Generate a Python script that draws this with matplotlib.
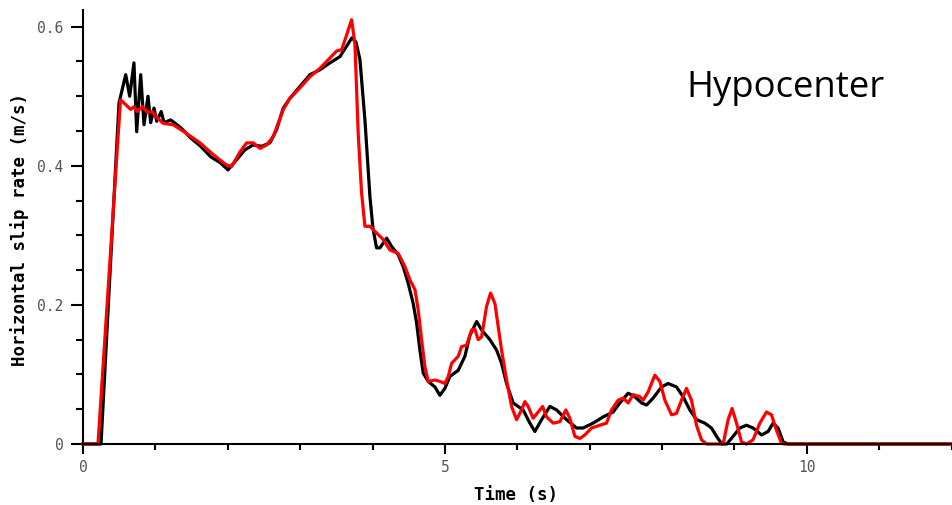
import numpy as np
import matplotlib.pyplot as plt
from matplotlib.ticker import MultipleLocator

''' Slip rate at the hypocenter, two solutions overlaid (black and red). '''

t_black = [0, 0.249, 0.497, 0.59, 0.645, 0.704, 0.742, 0.797, 0.843, 0.898, 0.935,
           0.981, 1.018, 1.081, 1.119, 1.211, 1.349, 1.488, 1.626, 1.764, 1.902,
           2.003, 2.238, 2.348, 2.468, 2.583, 2.675, 2.767, 2.859, 2.997, 3.135,
           3.273, 3.412, 3.55, 3.642, 3.715, 3.771, 3.826, 3.895, 3.964, 4.006,
           4.056, 4.102, 4.195, 4.264, 4.355, 4.424, 4.493, 4.562, 4.609, 4.655,
           4.7, 4.769, 4.862, 4.931, 5.0, 5.069, 5.184, 5.276, 5.345, 5.438,
           5.507, 5.622, 5.714, 5.783, 5.852, 5.943, 6.081, 6.174, 6.243, 6.336,
           6.45, 6.543, 6.681, 6.819, 6.91, 7.048, 7.187, 7.325, 7.417, 7.532,
           7.624, 7.717, 7.786, 7.877, 7.993, 8.084, 8.2, 8.291, 8.384, 8.476,
           8.591, 8.683, 8.753, 8.826, 8.895, 8.982, 9.075, 9.167, 9.258, 9.374,
           9.465, 9.535, 9.603, 9.673, 9.742, 12.02]
v_black = [0, 0, 0.49, 0.531, 0.50, 0.548, 0.449, 0.531, 0.459, 0.50, 0.462,
           0.483, 0.464, 0.478, 0.462, 0.466, 0.455, 0.44, 0.428, 0.413, 0.404,
           0.394, 0.423, 0.43, 0.428, 0.433, 0.452, 0.483, 0.497, 0.514, 0.531,
           0.538, 0.548, 0.557, 0.572, 0.584, 0.578, 0.553, 0.466, 0.356, 0.31,
           0.282, 0.282, 0.296, 0.284, 0.272, 0.255, 0.231, 0.202, 0.174, 0.135,
           0.102, 0.09, 0.082, 0.07, 0.080, 0.097, 0.106, 0.126, 0.156, 0.176,
           0.164, 0.15, 0.135, 0.116, 0.087, 0.059, 0.049, 0.030, 0.018, 0.035,
           0.054, 0.049, 0.035, 0.023, 0.023, 0.03, 0.039, 0.046, 0.059, 0.073,
           0.068, 0.059, 0.056, 0.066, 0.082, 0.087, 0.082, 0.068, 0.049, 0.035,
           0.030, 0.023, 0.011, 0.0, 0.0, 0.011, 0.023, 0.027, 0.023, 0.013,
           0.018, 0.030, 0.023, 0.003, 0.0, 0.0]

t_red = [0, 0.207, 0.518, 0.59, 0.659, 0.704, 0.75, 0.819, 0.888, 0.957, 1.026,
         1.109, 1.247, 1.409, 1.616, 1.8, 1.985, 2.054, 2.169, 2.261, 2.352,
         2.445, 2.537, 2.628, 2.767, 2.859, 2.997, 3.135, 3.273, 3.366, 3.457,
         3.504, 3.573, 3.642, 3.711, 3.757, 3.802, 3.849, 3.895, 3.964, 4.079,
         4.148, 4.24, 4.355, 4.448, 4.517, 4.586, 4.631, 4.678, 4.724, 4.769,
         4.862, 4.931, 5.0, 5.046, 5.093, 5.184, 5.23, 5.3, 5.369, 5.414, 5.46,
         5.507, 5.576, 5.631, 5.691, 5.736, 5.783, 5.852, 5.921, 5.99, 6.059,
         6.105, 6.15, 6.22, 6.289, 6.35, 6.405, 6.496, 6.588, 6.671, 6.726,
         6.796, 6.865, 6.934, 7.026, 7.141, 7.233, 7.302, 7.394, 7.463, 7.532,
         7.601, 7.693, 7.739, 7.808, 7.901, 7.97, 8.039, 8.131, 8.2, 8.269,
         8.338, 8.407, 8.476, 8.545, 8.615, 8.844, 8.913, 8.968, 9.029, 9.098,
         9.167, 9.258, 9.351, 9.443, 9.512, 9.581, 9.65, 9.696, 12.02]
v_red = [0, 0, 0.495, 0.488, 0.481, 0.485, 0.478, 0.485, 0.477, 0.478, 0.469,
         0.461, 0.459, 0.448, 0.433, 0.416, 0.401, 0.399, 0.42, 0.433, 0.433,
         0.425, 0.430, 0.442, 0.481, 0.497, 0.512, 0.528, 0.54, 0.55, 0.56,
         0.565, 0.567, 0.588, 0.61, 0.575, 0.447, 0.361, 0.313, 0.313, 0.301,
         0.294, 0.279, 0.274, 0.255, 0.236, 0.222, 0.193, 0.150, 0.111, 0.09,
         0.092, 0.09, 0.087, 0.097, 0.116, 0.126, 0.14, 0.142, 0.164, 0.165, 0.15,
         0.154, 0.198, 0.217, 0.202, 0.169, 0.135, 0.092, 0.054, 0.035, 0.049,
         0.061, 0.054, 0.037, 0.046, 0.054, 0.039, 0.03, 0.032, 0.049, 0.037,
         0.011, 0.008, 0.013, 0.023, 0.027, 0.03, 0.049, 0.063, 0.066, 0.059,
         0.071, 0.068, 0.063, 0.075, 0.099, 0.09, 0.063, 0.042, 0.044, 0.063,
         0.080, 0.063, 0.027, 0.006, 0.0, 0.0, 0.035, 0.051, 0.03, 0.003,
         0.0, 0.006, 0.03, 0.046, 0.042, 0.02, 0.001, 0.0, 0.0]

xticks = [0, 5, 10]
yticks = [0, 0.2, 0.4, 0.6]

fig = plt.figure(figsize=(9.53, 5.05), dpi=100)
ax = fig.add_axes([83/953, 61/505, 870/953, 434/505])

ax.plot(t_black, v_black, color='black', lw=2.3, solid_joinstyle='round', clip_on=False)
ax.plot(t_red, v_red, color='#ff0000', lw=2.3, solid_joinstyle='round', clip_on=False)

ax.set_xlim(0, 12.02)
ax.set_ylim(0, 0.624)
ax.spines['top'].set_visible(False)
ax.spines['right'].set_visible(False)
for s in ['left', 'bottom']:
    ax.spines[s].set_linewidth(1.5)

ax.set_xticks(xticks)
ax.set_xticklabels([str(x) for x in xticks])
ax.set_yticks(yticks)
ax.set_yticklabels(['0', '0.2', '0.4', '0.6'])
ax.xaxis.set_minor_locator(MultipleLocator(1))
ax.yaxis.set_minor_locator(MultipleLocator(0.05))

ax.tick_params(axis='x', which='major', length=7.5, width=1.5, pad=4,
               labelsize=10.5, labelcolor='#555555')
ax.tick_params(axis='x', which='minor', length=4.5, width=1.5)
ax.tick_params(axis='y', which='major', length=9, width=1.5, pad=5,
               labelsize=10.5, labelcolor='#555555')
ax.tick_params(axis='y', which='minor', length=5, width=1.5)
for lab in ax.get_xticklabels() + ax.get_yticklabels():
    lab.set_family('DejaVu Sans Mono')

ax.set_xlabel('Time (s)', family='DejaVu Sans Mono', fontweight='bold', fontsize=12.5)
ax.set_ylabel('Horizontal slip rate (m/s)', family='DejaVu Sans Mono',
              fontweight='bold', fontsize=12.5)
ax.xaxis.set_label_coords((516 - 83)/870, -42/434)
ax.yaxis.set_label_coords(-54/870, (444-229)/434)

ax.text(686/953, 1 - 97/505, 'Hypocenter', transform=fig.transFigure,
        family='Open Sans', fontsize=26.3, ha='left', va='baseline')

plt.savefig('out.png', dpi=100)
